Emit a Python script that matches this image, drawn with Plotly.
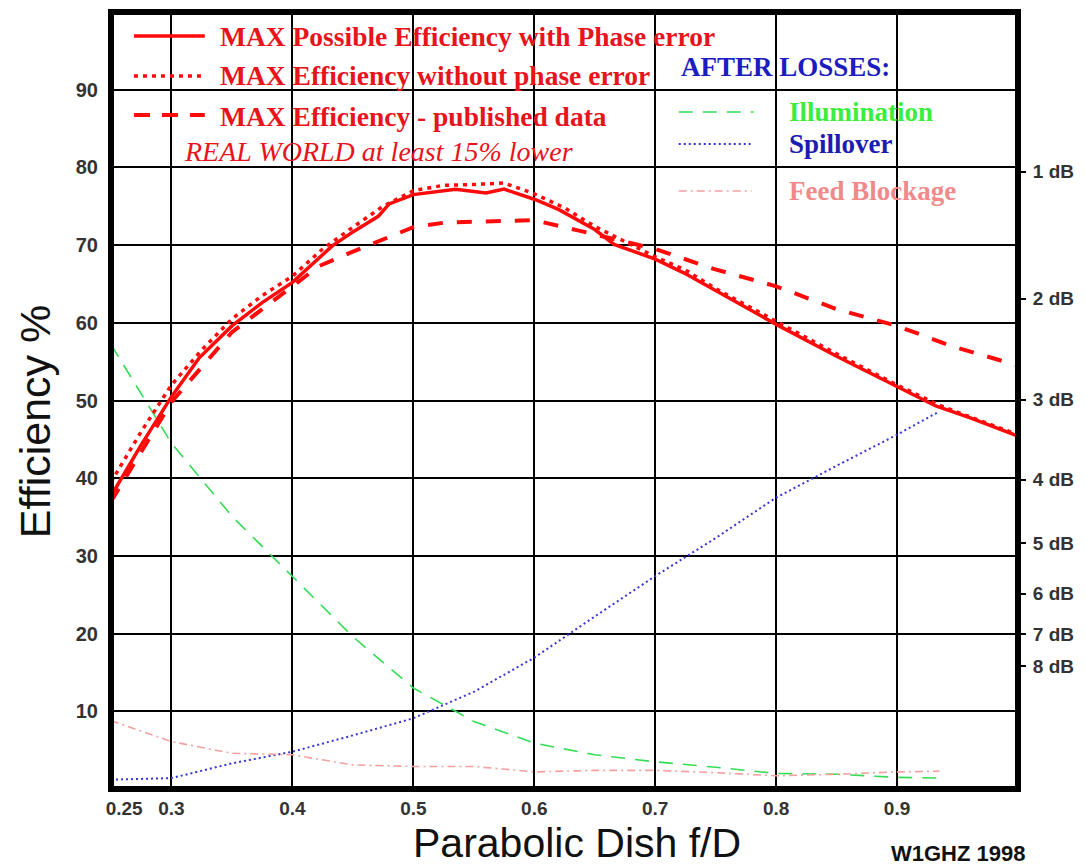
import plotly.graph_objects as go

# ---------------- data ----------------
FD_PHASE = [0.25, 0.275, 0.3, 0.323, 0.35, 0.375, 0.4, 0.433, 0.45, 0.471, 0.48, 0.5,
            0.535, 0.56, 0.575, 0.6, 0.62, 0.65, 0.666, 0.7, 0.724, 0.75, 0.8, 0.85,
            0.9, 0.932, 0.96, 1.0]
EFF_PHASE = [37.7, 44.3, 50.5, 55.5, 59.6, 62.6, 65.2, 69.9, 71.7, 73.7, 75.3, 76.5,
             77.2, 76.7, 77.2, 75.9, 74.6, 72.0, 70.1, 68.2, 66.4, 64.1, 59.8, 55.7,
             51.8, 49.3, 47.8, 45.4]

FD_NOPHASE = [0.25, 0.275, 0.3, 0.325, 0.35, 0.375, 0.4, 0.425, 0.45, 0.475, 0.5, 0.525,
              0.55, 0.575, 0.6, 0.625, 0.65, 0.675, 0.7, 0.725, 0.75, 0.8, 0.85, 0.9,
              0.935, 0.96, 1.0]
EFF_NOPHASE = [39.5, 46.0, 52.0, 56.5, 60.5, 63.5, 66.0, 69.5, 72.3, 75.0, 77.0, 77.7,
               77.8, 78.0, 76.6, 74.8, 72.4, 70.4, 68.5, 66.8, 64.4, 60.2, 56.0, 52.0,
               49.4, 47.9, 45.6]

FD_PUBLISHED = [0.25, 0.3, 0.35, 0.4, 0.422, 0.449, 0.474, 0.5, 0.526, 0.56, 0.6, 0.636,
                0.7, 0.749, 0.8, 0.851, 0.9, 0.945, 1.0]
EFF_PUBLISHED = [37.0, 49.8, 58.8, 64.7, 67.3, 69.1, 70.7, 72.3, 72.9, 73.0, 73.2, 71.9,
                 69.5, 66.9, 64.7, 61.7, 59.6, 57.0, 54.5]

FD_LOSS = [0.25, 0.3, 0.35, 0.4, 0.45, 0.5, 0.55, 0.6, 0.65, 0.7, 0.75, 0.8, 0.85, 0.9, 0.935]
ILLUMINATION = [57.2, 44.5, 35.1, 27.4, 19.6, 13.0, 8.7, 5.9, 4.4, 3.5, 2.8, 2.0, 1.9, 1.5, 1.4]
SPILLOVER = [1.2, 1.4, 3.3, 4.8, 6.9, 9.1, 12.5, 16.9, 22.2, 27.4, 32.3, 37.5, 41.6, 45.6, 48.6]
FEED_BLOCKAGE = [8.8, 6.1, 4.6, 4.4, 3.1, 2.9, 2.9, 2.2, 2.4, 2.4, 2.1, 1.7, 1.9, 2.2, 2.3]

X_TICKS = [0.25, 0.3, 0.4, 0.5, 0.6, 0.7, 0.8, 0.9]
X_TICK_TEXT = ["\u00a0\u00a0\u00a0\u00a0\u00a00.25", "0.3", "0.4", "0.5", "0.6", "0.7", "0.8", "0.9"]
Y_TICKS = [10, 20, 30, 40, 50, 60, 70, 80, 90]
DB_LEVELS = [1, 2, 3, 4, 5, 6, 7, 8]

# ---------------- styles ----------------
RED = "#ff0a0a"
RED_TEXT = "#e8141c"
GREEN = "#33dd55"
BLUE = "#3535d5"
PINK = "#f2a0a0"
SANS = "Liberation Sans, Arial, sans-serif"
SERIF = "Liberation Serif, Times New Roman, serif"

fig = go.Figure()

fig.add_trace(go.Scatter(x=FD_LOSS, y=ILLUMINATION, mode="lines",
                         line=dict(color=GREEN, width=1.6, dash="14px,10px"), name="Illumination"))
fig.add_trace(go.Scatter(x=FD_LOSS, y=SPILLOVER, mode="lines",
                         line=dict(color=BLUE, width=2, dash="2px,3px"), name="Spillover"))
fig.add_trace(go.Scatter(x=FD_LOSS, y=FEED_BLOCKAGE, mode="lines",
                         line=dict(color=PINK, width=1.6, dash="8px,4px,2px,4px"), name="Feed Blockage"))
fig.add_trace(go.Scatter(x=FD_PUBLISHED, y=EFF_PUBLISHED, mode="lines",
                         line=dict(color=RED, width=4, dash="15px,14px"), name="published"))
fig.add_trace(go.Scatter(x=FD_NOPHASE, y=EFF_NOPHASE, mode="lines",
                         line=dict(color=RED, width=3.5, dash="4px,5px"), name="no phase"))
fig.add_trace(go.Scatter(x=FD_PHASE, y=EFF_PHASE, mode="lines",
                         line=dict(color=RED, width=3.5), name="phase"))
# carrier trace for the right-hand dB axis
fig.add_trace(go.Scatter(x=FD_PHASE, y=EFF_PHASE, mode="lines", yaxis="y2",
                         line=dict(width=0), opacity=0, hoverinfo="skip", showlegend=False))

# plot-area pixel mapping helpers for decorations
L, R, T, B = 111, 1020, 12, 789
def px(x):
    return (x - L) / (R - L)
def py(y):
    return (B - y) / (B - T)

shapes = [
    dict(type="rect", xref="paper", yref="paper", x0=0, x1=1, y0=0, y1=1,
         line=dict(color="black", width=6), fillcolor="rgba(0,0,0,0)", layer="above"),
    # legend samples
    dict(type="line", xref="paper", yref="paper", x0=px(134), x1=px(205), y0=py(36), y1=py(36),
         line=dict(color=RED, width=3.5)),
    dict(type="line", xref="paper", yref="paper", x0=px(134), x1=px(205), y0=py(76), y1=py(76),
         line=dict(color=RED, width=3.5, dash="4px,5px")),
    dict(type="line", xref="paper", yref="paper", x0=px(134), x1=px(205), y0=py(115), y1=py(115),
         line=dict(color=RED, width=4, dash="16px,12px")),
    dict(type="line", xref="paper", yref="paper", x0=px(680), x1=px(755), y0=py(112), y1=py(112),
         line=dict(color=GREEN, width=1.6, dash="14px,10px")),
    dict(type="line", xref="paper", yref="paper", x0=px(680), x1=px(752), y0=py(144), y1=py(144),
         line=dict(color=BLUE, width=2, dash="2px,3px")),
    dict(type="line", xref="paper", yref="paper", x0=px(680), x1=px(753), y0=py(191), y1=py(191),
         line=dict(color=PINK, width=1.6, dash="8px,4px,2px,4px")),
]

def ann(text, x, y, color, size=27, family=SERIF, weight="bold", style="normal", xanchor="left", angle=0):
    return dict(text=text, xref="paper", yref="paper", x=x, y=y, xanchor=xanchor, yanchor="middle",
                showarrow=False, textangle=angle,
                font=dict(family=family, size=size, color=color, weight=weight, style=style))

annotations = [
    ann("MAX Possible Efficiency with Phase error", px(218), py(37), RED_TEXT, size=27.5),
    ann("MAX Efficiency without phase error", px(218), py(76), RED_TEXT, size=27.5),
    ann("MAX Efficiency - published data", px(218), py(116), RED_TEXT, size=27.5),
    ann("REAL WORLD at least 15% lower", px(182), py(151), RED_TEXT, size=28,
        weight="normal", style="italic"),
    ann("AFTER LOSSES:", px(680), py(67), "#1c1cc0", size=27),
    ann("Illumination", px(788), py(112), "#3cee3c", size=27),
    ann("Spillover", px(788), py(144), "#1c1cb0", size=27),
    ann("Feed Blockage", px(788), py(191), "#f08a8a", size=27),
    ann("Efficiency %", px(35), py(422), "#111111", size=43, family=SANS, weight="normal",
        xanchor="center", angle=-90),
    ann("Parabolic Dish f/D", px(578), py(843), "#111111", size=41, family=SANS, weight="normal",
        xanchor="center"),
    ann("W1GHZ 1998", px(960), py(854), "#111111", size=22, family=SANS, weight="bold",
        xanchor="center"),
]

tickfont = dict(family=SANS, size=19, color="#333333", weight="bold")

fig.update_layout(
    width=1086, height=868,
    margin=dict(l=L, r=1086 - R, t=T, b=868 - B),
    paper_bgcolor="white", plot_bgcolor="white",
    showlegend=False,
    xaxis=dict(range=[0.25, 1.0], tickvals=X_TICKS, ticktext=X_TICK_TEXT,
               showgrid=True, gridcolor="black", gridwidth=1.7, zeroline=False,
               showline=False, ticks="", tickfont=tickfont, ticklabelstandoff=6),
    yaxis=dict(range=[0, 100], tickvals=Y_TICKS, showgrid=True, gridcolor="black",
               gridwidth=1.7, zeroline=False, showline=False, ticks="",
               tickfont=dict(family=SANS, size=20, color="#333333", weight="bold"),
               ticklabelstandoff=12),
    yaxis2=dict(range=[0, 100], overlaying="y", side="right",
                tickvals=[100 * 10 ** (-d / 10) for d in DB_LEVELS],
                ticktext=[f"{d} dB" for d in DB_LEVELS],
                showgrid=False, zeroline=False, showline=False,
                ticks="outside", ticklen=7, tickwidth=1.5, tickcolor="black",
                tickfont=tickfont, ticklabelstandoff=3),
    shapes=shapes,
    annotations=annotations,
)

fig.write_html("out.html")
